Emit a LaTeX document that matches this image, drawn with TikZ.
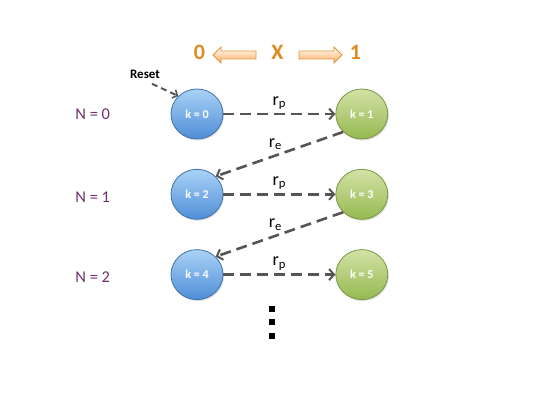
\documentclass[tikz,border=0pt]{standalone}
\usepackage{fontspec}
\setmainfont{Carlito}
\usepackage{xcolor}
\usetikzlibrary{arrows.meta,positioning,shapes.geometric,shapes.arrows,shadows}

\definecolor{bluetop}{RGB}{170,210,247}
\definecolor{bluebot}{RGB}{78,142,214}
\definecolor{blueline}{RGB}{65,113,170}
\definecolor{greentop}{RGB}{210,226,165}
\definecolor{greenbot}{RGB}{150,185,80}
\definecolor{greenline}{RGB}{120,150,65}
\definecolor{linegray}{RGB}{85,85,85}
\definecolor{orangetxt}{RGB}{224,138,32}
\definecolor{orangeline}{RGB}{222,150,60}
\definecolor{purpletxt}{RGB}{112,48,110}

\begin{document}
\begin{tikzpicture}[
    x=1pt, y=1pt,
    state/.style={ellipse, minimum width=52pt, minimum height=50pt, line width=0.8pt,
      text=white, font=\fontsize{12}{14}\selectfont\bfseries,
      drop shadow={opacity=0.25, shadow xshift=1pt, shadow yshift=-1.5pt}},
    bstate/.style={state, draw=blueline, top color=bluetop, bottom color=bluebot},
    gstate/.style={state, draw=greenline, top color=greentop, bottom color=greenbot},
    level/.style={text=purpletxt, font=\fontsize{16.5}{18}\selectfont},
    rate/.style={font=\fontsize{18}{20}\selectfont, inner sep=1pt},
    trans/.style={draw=linegray, line width=2.6pt, dash pattern=on 11pt off 6pt,
      -{Straight Barb[length=5pt,width=11pt,line width=2pt]}},
    ends/.style={text=orangetxt, font=\fontsize{22}{24}\selectfont\bfseries},
    bigarrow/.style={single arrow, draw=orangeline, line width=0.9pt,
      top color=white, bottom color=orange!65, minimum height=43pt,
      minimum width=16pt, single arrow head extend=3pt, inner sep=2.5pt},
    dotbox/.style={rectangle, fill=black, minimum size=6pt, inner sep=0pt},
    node distance=29.5pt
    ]
    \useasboundingbox (0,0) rectangle (537,-415);

    % states
    \node[bstate] (k0) at (197,-114) {k = 0};
    \node[gstate, right=112pt of k0] (k1) {k = 1};
    \node[bstate, below=of k0] (k2) {k = 2};
    \node[gstate, right=112pt of k2] (k3) {k = 3};
    \node[bstate, below=of k2] (k4) {k = 4};
    \node[gstate, right=112pt of k4] (k5) {k = 5};

    % levels
    \node[level, left=57pt of k0] (n0) {N = 0};
    \node[level, left=57pt of k2, yshift=-3pt] (n1) {N = 1};
    \node[level, left=57pt of k4, yshift=-3pt] (n2) {N = 2};

    % top scale
    \node[ends] (zero) at (199.5,-52.5) {0};
    \node[ends] (xvar) at (277.5,-52.5) {X};
    \node[ends] (one) at (355.5,-52.5) {1};
    \node[bigarrow, shape border rotate=180] (larr) at (236.5,-55) {};
    \node[bigarrow] (rarr) at (318.5,-55) {};

    % reset
    \node[font=\fontsize{13}{15}\selectfont\bfseries] (reset) at (145,-74) {Reset};
    \draw[trans, line width=2pt, dash pattern=on 6pt off 4pt,
      -{Straight Barb[length=4pt,width=9pt,line width=1.6pt]}]
      ([xshift=7pt,yshift=-2pt]reset.south) -- (k0.north west);

    % transitions
    \draw[trans] (k0.east) -- (k1.west) node[rate, midway, above=2pt] {r\textsubscript{p}};
    \draw[trans] (k1.south west) -- (k2.north east) node[rate, midway, above=2pt, xshift=-4pt] {r\textsubscript{e}};
    \draw[trans] (k2.east) -- (k3.west) node[rate, midway, above=2pt] {r\textsubscript{p}};
    \draw[trans] (k3.south west) -- (k4.north east) node[rate, midway, above=2pt, xshift=-4pt] {r\textsubscript{e}};
    \draw[trans] (k4.east) -- (k5.west) node[rate, midway, above=2pt] {r\textsubscript{p}};

    % more levels
    \node[dotbox] (dot1) at (272,-309) {};
    \node[dotbox, below=7pt of dot1] (dot2) {};
    \node[dotbox, below=7pt of dot2] (dot3) {};
\end{tikzpicture}
\end{document}
